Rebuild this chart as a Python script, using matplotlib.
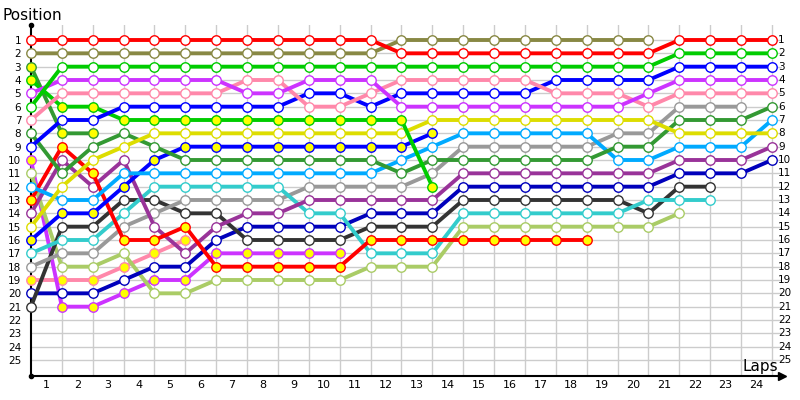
import numpy as np
import matplotlib.pyplot as plt

N = None

# positions per lap, index 0 = grid (start)
laps = list(range(25))
red = [1, 1, 1, 1, 1, 1, 1, 1, 1, 1, 1, 1, 2, 2, 2, 2, 2, 2, 2, 2, 2, 1, 1, 1, 1]
olive = [2, 2, 2, 2, 2, 2, 2, 2, 2, 2, 2, 2, 1, 1, 1, 1, 1, 1, 1, 1, 1, N, N, N, N]
green = [6, 3, 3, 3, 3, 3, 3, 3, 3, 3, 3, 3, 3, 3, 3, 3, 3, 3, 3, 3, 3, 2, 2, 2, 2]
violet = [5, 4, 4, 4, 4, 4, 4, 5, 5, 4, 4, 4, 6, 6, 6, 6, 6, 6, 6, 6, 5, 4, 4, 4, 4]
pink = [7, 5, 5, 5, 5, 5, 5, 4, 4, 6, 6, 5, 4, 4, 4, 4, 4, 5, 5, 5, 6, 5, 5, 5, 5]
blue = [9, 7, 7, 6, 6, 6, 6, 6, 6, 5, 5, 6, 5, 5, 5, 5, 5, 4, 4, 4, 4, 3, 3, 3, 3]
green_y = [4, 6, 6, 7, 7, 7, 7, 7, 7, 7, 7, 7, 7, 12, N, N, N, N, N, N, N, N, N, N, N]
yellow = [15, 12, 10, 9, 8, 8, 8, 8, 8, 8, 8, 8, 8, 7, 7, 7, 7, 7, 7, 7, 7, 8, 8, 8, 8]
blue_y = [16, 14, 14, 12, 10, 9, 9, 9, 9, 9, 9, 9, 9, 8, N, N, N, N, N, N, N, N, N, N, N]
dkgreen_y = [3, 8, 8, N, N, N, N, N, N, N, N, N, N, N, N, N, N, N, N, N, N, N, N, N, N]
dkgreen = [8, 11, 9, 8, 9, 10, 10, 10, 10, 10, 10, 10, 11, 10, 10, 10, 10, 10, 10, 9, 9, 7, 7, 7, 6]
ltblue = [12, 13, 13, 11, 11, 11, 11, 11, 11, 11, 11, 11, 10, 9, 8, 8, 8, 8, 8, 10, 10, 9, 9, 9, 7]
violet_y = [10, 21, 21, 20, 19, 19, 17, 17, 17, 17, 17, N, N, N, N, N, N, N, N, N, N, N, N, N, N]
ltgreen = [11, 18, 18, 17, 20, 20, 19, 19, 19, 19, 19, 18, 18, 18, 15, 15, 15, 15, 15, 15, 15, 14, N, N, N]
red_y = [13, 9, 11, 16, 16, 15, 18, 18, 18, 18, 18, 16, 16, 16, 16, 16, 16, 16, 16, N, N, N, N, N, N]
purple = [14, 10, 12, 10, 15, 17, 15, 14, 14, 13, 13, 13, 13, 13, 11, 11, 11, 11, 11, 11, 11, 10, 10, 10, 9]
cyan = [17, 16, 16, 14, 12, 12, 12, 12, 12, 14, 14, 17, 17, 17, 14, 14, 14, 14, 14, 14, 13, 13, 13, N, N]
black = [21, 15, 15, 13, 13, 14, 14, 16, 16, 16, 16, 15, 15, 15, 13, 13, 13, 13, 13, 13, 14, 12, 12, N, N]
navy = [20, 20, 20, 19, 18, 18, 16, 15, 15, 15, 15, 14, 14, 14, 12, 12, 12, 12, 12, 12, 12, 11, 11, 11, 10]
gray = [18, 17, 17, 15, 14, 13, 13, 13, 13, 12, 12, 12, 12, 11, 9, 9, 9, 9, 9, 8, 8, 6, 6, 6, N]
pink_y = [19, 19, 19, 18, 17, 16, N, N, N, N, N, N, N, N, N, N, N, N, N, N, N, N, N, N, N]

lap_labels = [str(i) for i in range(1, 25)]
positions = list(range(1, 26))

# (data, line colour, marker fill)
series = [
    (pink_y, '#ff88aa', '#ffff00'),
    (violet_y, '#cc33ff', '#ffff00'),
    (ltgreen, '#aacc66', 'white'),
    (navy, '#0000bb', 'white'),
    (black, '#333333', 'white'),
    (gray, '#999999', 'white'),
    (cyan, '#33cccc', 'white'),
    (purple, '#993399', 'white'),
    (red_y, '#ff0000', '#ffff00'),
    (blue_y, '#0000ff', '#ffff00'),
    (ltblue, '#00aaff', 'white'),
    (dkgreen, '#339933', 'white'),
    (dkgreen_y, '#339933', '#ffff00'),
    (yellow, '#dddd00', 'white'),
    (green_y, '#00cc00', '#ffff00'),
    (blue, '#0000ff', 'white'),
    (pink, '#ff88aa', 'white'),
    (violet, '#cc33ff', 'white'),
    (green, '#00cc00', 'white'),
    (olive, '#888844', 'white'),
    (red, '#ff0000', 'white'),
]

fig = plt.figure(figsize=(8, 4), dpi=100)
ax = fig.add_axes([31 / 800, 24 / 400, 751 / 800, 351 / 400])

for vals, col, fill in series:
    y = np.array([np.nan if v is None else v for v in vals], dtype=float)
    ax.plot(laps, y, '-', color=col, lw=2.8, marker='o', ms=6.8,
            mfc=fill, mec=col, mew=1.0, clip_on=False, zorder=3)

ax.set_xlim(0, 751 / 30.875)
ax.set_ylim(26.2, -0.125)

ax.set_xticks(np.arange(0.5, 24, 1))
ax.set_xticklabels(lap_labels, fontsize=8)
ax.set_xticks(range(1, 25), minor=True)
ax.set_yticks(positions)
ax.set_yticklabels([str(p) for p in positions], fontsize=7.5)
ax.tick_params(axis='both', which='both', length=0)
ax.tick_params(axis='x', pad=3)
ax.tick_params(axis='y', pad=7)
ax.grid(which='minor', axis='x', color='#cccccc', lw=1)
ax.grid(which='major', axis='y', color='#cccccc', lw=1)
ax.grid(which='major', axis='x', visible=False)
ax.set_axisbelow(True)

for p in positions:
    ax.text(24.2, p, str(p), fontsize=7.5, va='center', ha='left')

ax.spines['top'].set_visible(False)
ax.spines['right'].set_visible(False)
ax.spines['left'].set_linewidth(1.5)
ax.spines['bottom'].set_linewidth(1.5)
ax.plot(1, 0, '>k', ms=6, transform=ax.transAxes, clip_on=False)
ax.plot(0, 1, 'ok', ms=3, transform=ax.transAxes, clip_on=False)
ax.plot(0, 0, 'ok', ms=3, transform=ax.transAxes, clip_on=False)

fig.text(3 / 800, 1 - 15 / 400, 'Position', fontsize=11, va='center', ha='left')
fig.text(742 / 800, 1 - 366 / 400, 'Laps', fontsize=11, va='center', ha='left')

fig.savefig('out.png', dpi=100)
